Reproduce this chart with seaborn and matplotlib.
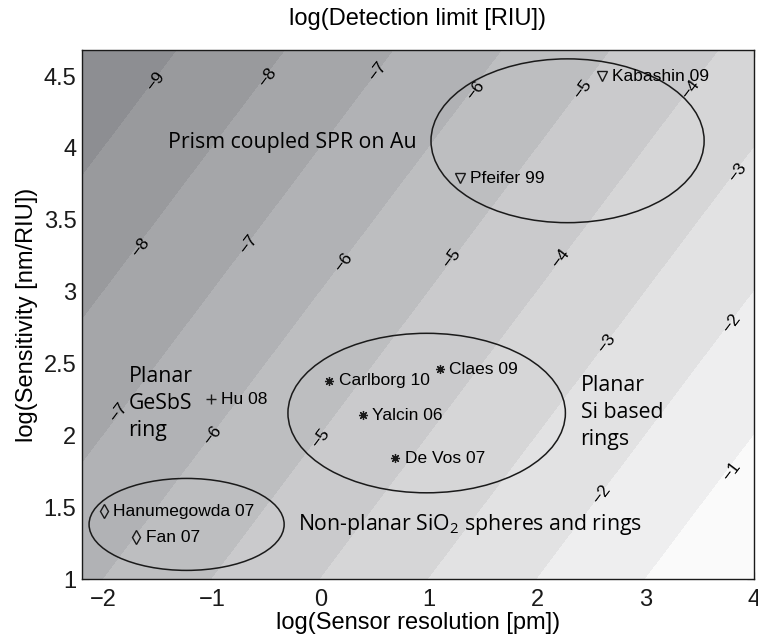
"""Detection limit map: log(sensor resolution) vs log(sensitivity) with literature points."""

import matplotlib

matplotlib.use("Agg")
import matplotlib.pyplot as plt
from matplotlib.patches import Ellipse
import numpy as np
import seaborn as sns

# axis ranges
x_range = [-2.2, 4.0]
y_range = [1.0, 4.68]

# contour levels of log(detection limit [RIU])
dl_levels = list(range(-10, 1))
band_light = "#fafafa"
band_dark = "#8d8e92"

# literature sensors
ref_names = ["Kabashin 09", "Pfeifer 99", "Hu 08", "Hanumegowda 07", "Fan 07",
             "Carlborg 10", "Yalcin 06", "Claes 09", "De Vos 07"]
ref_x = [2.60, 1.29, -1.01, -2.00, -1.70, 0.08, 0.39, 1.10, 0.69]
ref_y = [4.50, 3.79, 2.25, 1.47, 1.29, 2.38, 2.14, 2.46, 1.84]
ref_group = ["spr", "spr", "gesbs", "sio2", "sio2", "si", "si", "si", "si"]

# grouping ellipses (center x, center y, half width, half height)
ell_cx = [2.28, 0.98, -1.235]
ell_cy = [4.05, 2.155, 1.38]
ell_a = [1.26, 1.28, 0.90]
ell_b = [0.57, 0.555, 0.32]

# group captions
cap_text = ["Prism coupled SPR on Au", "Planar\nGeSbS\nring",
            "Planar\nSi based\nrings", "Non-planar SiO$_2$ spheres and rings"]
cap_x = [-1.41, -1.77, 2.40, -0.21]
cap_y = [4.04, 2.22, 2.16, 1.38]

# contour labels: value and where it sits
clabel_val = [-9, -8, -7, -6, -5, -4, -3,
              -8, -7, -6, -5, -4, -3, -2,
              -7, -6, -5, -2, -1]
clabel_x = [-1.52, -0.49, 0.53, 1.43, 2.42, 3.41, 3.85,
            -1.66, -0.66, 0.21, 1.21, 2.21, 2.64, 3.79,
            -1.86, -1.00, 0.00, 2.59, 3.79]
clabel_y = [4.46, 4.49, 4.53, 4.40, 4.41, 4.41, 3.83,
            3.31, 3.33, 3.20, 3.23, 3.23, 2.64, 2.78,
            2.16, 2.00, 1.98, 1.59, 1.75]

sns.set_theme(style="ticks")
plt.rcParams["font.family"] = ["Liberation Sans", "DejaVu Sans"]
plt.rcParams["mathtext.fontset"] = "custom"
plt.rcParams["mathtext.rm"] = "Open Sans"
plt.rcParams["text.color"] = "black"
plt.rcParams["axes.labelcolor"] = "black"

fig = plt.figure(figsize=(7.58, 6.36), dpi=100)
ax = fig.add_axes([0.1082, 0.0896, 0.8865, 0.8314])

# detection limit = resolution / sensitivity (pm -> nm gives the -3)
gx = np.linspace(x_range[0], x_range[1], 400)
gy = np.linspace(y_range[0], y_range[1], 400)
GX, GY = np.meshgrid(gx, gy)
GZ = GX - GY - 3

band_colors = sns.blend_palette([band_dark, band_light], len(dl_levels) - 1)
ax.contourf(GX, GY, GZ, levels=dl_levels, colors=band_colors)

ax.set_xlim(x_range)
ax.set_ylim(y_range)

# iso-lines run at 45 deg in data space; get the on-screen angle
p0 = ax.transData.transform((0, 0))
p1 = ax.transData.transform((1, 1))
iso_angle = np.degrees(np.arctan2(p1[1] - p0[1], p1[0] - p0[0]))
for v, x, y in zip(clabel_val, clabel_x, clabel_y):
    ax.text(x, y, f"\u2212{abs(v)}", rotation=iso_angle, rotation_mode="anchor",
            ha="center", va="center", fontsize=12.5)

for cx, cy, a, b in zip(ell_cx, ell_cy, ell_a, ell_b):
    ax.add_patch(Ellipse((cx, cy), 2 * a, 2 * b, fill=False, ec="k", lw=1.1))

marker_style = {
    "spr": dict(marker="v", ms=7, mfc="none", mec="k", mew=1.0),
    "gesbs": dict(marker="+", ms=6.5, mec="k", mew=1.0),
    "sio2": dict(marker="d", ms=7, mfc="none", mec="k", mew=1.0),
    "si": dict(marker=(8, 2, 0), ms=6.5, mec="k", mew=0.9),
}
for name, x, y, g in zip(ref_names, ref_x, ref_y, ref_group):
    ax.plot([x], [y], ls="none", **marker_style[g])
    ax.annotate(name, (x, y), xytext=(7, 0), textcoords="offset points",
                ha="left", va="center", fontsize=12.5)

for txt, x, y in zip(cap_text, cap_x, cap_y):
    ax.text(x, y, txt, ha="left", va="center", fontsize=15.3,
            family="Open Sans", linespacing=1.38)

ax.set_xticks(range(-2, 5))
ax.set_yticks(np.arange(1, 4.6, 0.5))
ax.set_yticklabels(["1", "1.5", "2", "2.5", "3", "3.5", "4", "4.5"])
ax.set_xticklabels(["\u22122", "\u22121", "0", "1", "2", "3", "4"])
ax.tick_params(direction="in", length=5, width=0.8, top=True, right=True,
               labelsize=17, colors="k")
ax.tick_params(axis="x", pad=7)
ax.tick_params(axis="y", pad=4)
for sp in ax.spines.values():
    sp.set_visible(True)
    sp.set_linewidth(1.0)
    sp.set_color("k")

ax.set_xlabel("log(Sensor resolution [pm])", fontsize=17, labelpad=1)
ax.set_ylabel("log(Sensitivity [nm/RIU])", fontsize=17, labelpad=4)
ax.set_title("log(Detection limit [RIU])", fontsize=17, pad=18)

fig.savefig("out.png", dpi=100)
